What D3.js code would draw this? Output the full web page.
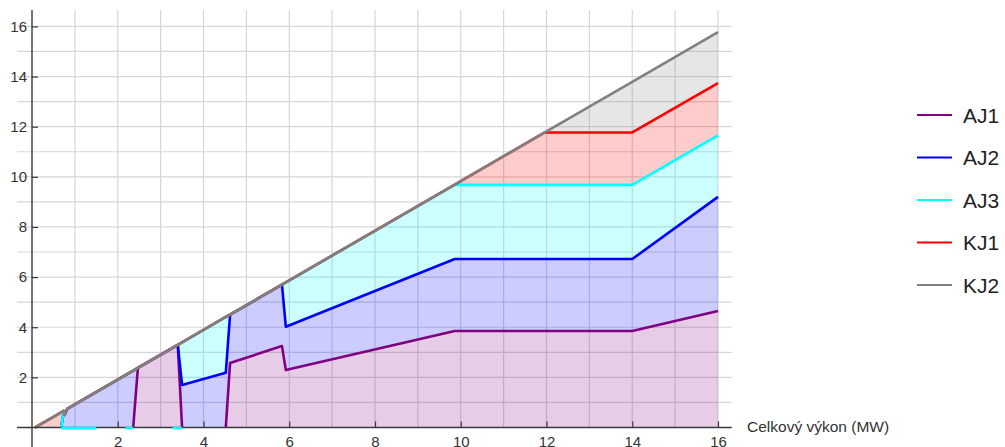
<!DOCTYPE html>
<html>
<head>
<meta charset="utf-8">
<script src="https://cdn.jsdelivr.net/npm/d3@7"></script>
<style>
  html, body { margin: 0; padding: 0; background: #fff; }
  svg { display: block; font-family: "Liberation Sans", Arial, sans-serif; }
</style>
</head>
<body>
<svg id="chart" width="1005" height="447"></svg>
<script>
// Total output (MW) at which the dispatch changes
const power = [0.07, 0.68, 0.74, 0.76, 0.82, 2.36, 2.47, 3.40, 3.50, 4.52, 4.62, 5.83, 5.92, 9.86, 11.96, 14.00, 16.00];

// Cumulative (stacked) output of the units, MW
const aj1 = [0, 0, 0, 0, 0, 0, 2.38, 3.30, 0, 0, 2.57, 3.25, 2.29, 3.85, 3.85, 3.85, 4.65];
const aj2 = [0, 0, 0.66, 0.50, 0.74, 2.27, 2.38, 3.30, 1.70, 2.18, 4.50, 5.70, 4.02, 6.72, 6.72, 6.72, 9.20];
const aj3 = [0, 0, 0.66, 0.50, 0.74, 2.27, 2.38, 3.30, 3.40, 4.41, 4.50, 5.70, 5.79, 9.68, 9.68, 9.68, 11.65];
const kj1 = [0, 0.60, 0.66, 0.50, 0.74, 2.27, 2.38, 3.30, 3.40, 4.41, 4.50, 5.70, 5.79, 9.69, 11.77, 11.77, 13.74];
const kj2 = [0, 0.60, 0.66, 0.50, 0.74, 2.27, 2.38, 3.30, 3.40, 4.41, 4.50, 5.70, 5.79, 9.69, 11.77, 13.79, 15.77];

// Stretches where AJ3 sits idle on the axis
const aj3Idle = [[0.68, 1.50], [2.18, 2.36], [3.28, 3.50]];

const seriesNames = ["AJ1", "AJ2", "AJ3", "KJ1", "KJ2"];
const seriesColors = ["#800080", "#0000ff", "#00ffff", "#ff0000", "#808080"];
const xTicks = [2, 4, 6, 8, 10, 12, 14, 16];
const yTicks = [2, 4, 6, 8, 10, 12, 14, 16];
const gridX = d3.range(1, 17);
const gridY = d3.range(1, 17);
const xTitle = "Celkový výkon (MW)";

const series = [aj1, aj2, aj3, kj1, kj2];

const svg = d3.select("#chart");
const x = d3.scaleLinear().domain([0, 16]).range([32, 718]);
const y = d3.scaleLinear().domain([0, 16]).range([427.5, 26.4]);
const xMin = -0.35, xMax = 16.32, yMax = 16.65;

// grid
const grid = svg.append("g").attr("stroke", "#d6d6d6").attr("stroke-width", 1.2);
grid.selectAll("line.gx").data(gridX).join("line")
  .attr("x1", d => x(d)).attr("x2", d => x(d))
  .attr("y1", y(yMax)).attr("y2", y(0));
grid.selectAll("line.gy").data(gridY).join("line")
  .attr("x1", x(xMin)).attr("x2", x(xMax))
  .attr("y1", d => y(d)).attr("y2", d => y(d));

// stacked bands: each unit filled between its curve and the one below
const band = d3.area()
  .x(d => x(d.p)).y0(d => y(d.lo)).y1(d => y(d.hi));
series.forEach((vals, i) => {
  const below = i === 0 ? vals.map(() => 0) : series[i - 1];
  const pts = power.map((p, k) => ({ p, lo: below[k], hi: vals[k] }));
  svg.append("path")
    .attr("d", band(pts))
    .attr("fill", seriesColors[i])
    .attr("fill-opacity", 0.2)
    .attr("stroke", "none");
});

// a unit's line is drawn only where it carries load
function loadedRuns(vals) {
  const runs = [];
  let cur = null;
  for (let k = 0; k < vals.length - 1; k++) {
    if (vals[k] > 0 || vals[k + 1] > 0) {
      if (!cur) { cur = [{ p: power[k], v: vals[k] }]; runs.push(cur); }
      cur.push({ p: power[k + 1], v: vals[k + 1] });
    } else {
      cur = null;
    }
  }
  return runs;
}
const line = d3.line().x(d => x(d.p)).y(d => y(d.v));
series.forEach((vals, i) => {
  loadedRuns(vals).forEach(run => {
    svg.append("path")
      .attr("d", line(run))
      .attr("fill", "none")
      .attr("stroke", seriesColors[i])
      .attr("stroke-width", 2.6)
      .attr("stroke-linejoin", "round");
  });
});

// axes
const axisColor = "#3a3a3a";
svg.append("line")
  .attr("x1", x(xMin)).attr("x2", x(xMax))
  .attr("y1", y(0)).attr("y2", y(0))
  .attr("stroke", axisColor).attr("stroke-width", 1.4);
svg.append("line")
  .attr("x1", x(0)).attr("x2", x(0))
  .attr("y1", y(yMax)).attr("y2", 447)
  .attr("stroke", axisColor).attr("stroke-width", 1.4);

const xAxis = svg.append("g")
  .attr("transform", `translate(0,${y(0)})`)
  .call(d3.axisBottom(x).tickValues(xTicks).tickSize(-6).tickPadding(9));
const yAxis = svg.append("g")
  .attr("transform", `translate(${x(0)},0)`)
  .call(d3.axisLeft(y).tickValues(yTicks).tickSize(-6).tickPadding(5));
[xAxis, yAxis].forEach(g => {
  g.select(".domain").remove();
  g.selectAll(".tick line").attr("stroke", axisColor).attr("stroke-width", 1.2);
  g.selectAll(".tick text")
    .attr("fill", "#333")
    .style("font-size", "15px")
    .style("font-family", "'Liberation Sans', Arial, sans-serif");
});

// idle stretches of AJ3 lying on the axis
svg.selectAll("line.idle").data(aj3Idle).join("line")
  .attr("x1", d => x(d[0])).attr("x2", d => x(d[1]))
  .attr("y1", y(0) + 0.6).attr("y2", y(0) + 0.6)
  .attr("stroke", seriesColors[2]).attr("stroke-width", 2.6);

svg.append("text")
  .attr("x", 747).attr("y", y(0))
  .attr("dominant-baseline", "middle")
  .attr("fill", "#333")
  .style("font-size", "15.5px")
  .text(xTitle);

// legend
const legend = svg.append("g");
seriesNames.forEach((name, i) => {
  const ly = 115 + i * 42.5;
  legend.append("line")
    .attr("x1", 917).attr("x2", 952).attr("y1", ly).attr("y2", ly)
    .attr("stroke", seriesColors[i]).attr("stroke-width", 2.2);
  legend.append("text")
    .attr("x", 963).attr("y", ly)
    .attr("dominant-baseline", "central")
    .attr("fill", "#222")
    .style("font-size", "21px")
    .text(name);
});
</script>
</body>
</html>
